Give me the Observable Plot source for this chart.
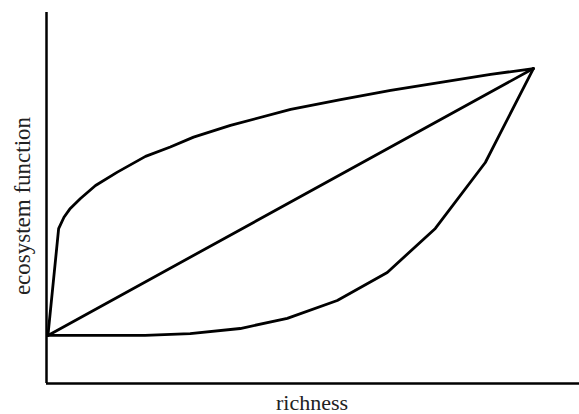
<!DOCTYPE html>
<html>
<head>
<meta charset="utf-8">
<script src="https://cdn.jsdelivr.net/npm/d3@7"></script>
<script src="https://cdn.jsdelivr.net/npm/@observablehq/plot@0.6"></script>
<style>
  html, body { margin: 0; padding: 0; background: #fff; }
</style>
</head>
<body>
<div id="chart"></div>
<script>
// Richness (x) and ecosystem function (y), in arbitrary units
const upperX = [0, 0.22, 0.33, 0.46, 0.67, 0.98, 1.43, 2.01, 2.52, 3.0, 3.76, 5.0, 6.03, 7.06, 8.09, 9.12, 10];
const upperY = [0, 4.0, 4.43, 4.76, 5.13, 5.62, 6.12, 6.71, 7.06, 7.43, 7.87, 8.47, 8.84, 9.18, 9.48, 9.78, 10];
const linearX = [0, 10];
const linearY = [0, 10];
const lowerX = [0, 2.0, 2.93, 3.96, 4.93, 5.96, 6.99, 7.98, 9.01, 10];
const lowerY = [0, 0, 0.07, 0.26, 0.64, 1.31, 2.36, 4.01, 6.48, 10];
const xLabel = "richness";
const yLabel = "ecosystem function";
const xDomain = [-0.03, 10.95];
const yDomain = [-1.8, 12.1];

const toRows = (xs, ys, name) => xs.map((x, i) => ({x, y: ys[i], series: name}));
const rows = [
  ...toRows(upperX, upperY, "saturating"),
  ...toRows(linearX, linearY, "linear"),
  ...toRows(lowerX, lowerY, "accelerating")
];

const font = "'Liberation Serif', 'Times New Roman', serif";

const chart = Plot.plot({
  width: 579,
  height: 414,
  marginLeft: 46,
  marginRight: 0,
  marginTop: 12,
  marginBottom: 31,
  x: {domain: xDomain, axis: null},
  y: {domain: yDomain, axis: null},
  style: {fontFamily: font, background: "#fff"},
  marks: [
    Plot.ruleX([xDomain[0]], {stroke: "#000", strokeWidth: 2.5}),
    Plot.ruleY([yDomain[0]], {stroke: "#000", strokeWidth: 2.5}),
    Plot.line(rows, {x: "x", y: "y", z: "series", stroke: "#000", strokeWidth: 2.8, curve: "linear", strokeLinejoin: "round", strokeLinecap: "round"}),
    Plot.text([xLabel], {text: d => d, frameAnchor: "bottom", textAnchor: "middle", dx: -1, dy: 19, fontSize: 22, fill: "#222", fontFamily: font, lineAnchor: "middle"}),
    Plot.text([yLabel], {text: d => d, frameAnchor: "left", textAnchor: "middle", dx: -24, dy: 8, rotate: -90, fontSize: 23, fill: "#222", fontFamily: font, lineAnchor: "middle"})
  ]
});
document.getElementById("chart").append(chart);
</script>
</body>
</html>
